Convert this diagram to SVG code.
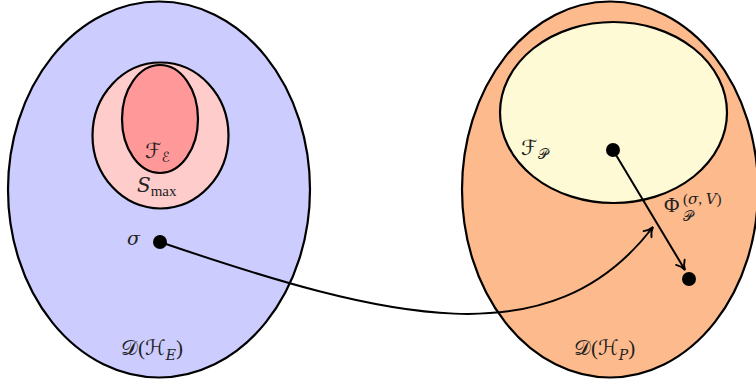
<svg xmlns="http://www.w3.org/2000/svg" width="756" height="383" viewBox="0 0 756 383">
<style>
.el{stroke:#000;stroke-width:2.2}
.t{font-family:"DejaVu Serif","Liberation Serif",serif;font-style:italic;fill:#222}
.r{font-family:"Liberation Serif","DejaVu Serif",serif;font-style:normal;fill:#222}
.s{font-family:"DejaVu Sans","DejaVu Serif","Noto Sans",serif;font-style:normal;fill:#222}
.edge{fill:none;stroke:#000;stroke-width:2}
</style>
<defs>
<marker id="arr" viewBox="0 0 14 14" refX="12" refY="7" markerWidth="14" markerHeight="14" markerUnits="userSpaceOnUse" orient="auto">
<path d="M3,2 Q7,6 12,7 Q7,8 3,12" fill="none" stroke="#000" stroke-width="1.9" stroke-linecap="round"/>
</marker>
</defs>
<rect width="756" height="383" fill="#fff"/>
<g id="DHE">
<ellipse class="el" cx="159" cy="189.5" rx="151" ry="188" fill="#ccccff"/>
<text x="121" y="355" font-size="21"><tspan class="s">𝒟</tspan><tspan class="r">(</tspan><tspan class="s">ℋ</tspan><tspan class="t" font-size="14" dy="5">E</tspan><tspan class="r" dy="-5">)</tspan></text>
</g>
<g id="Smax">
<ellipse class="el" cx="160.5" cy="135.5" rx="68" ry="73" fill="#ffcccc"/>
<text class="t" x="137" y="192" font-size="20">S<tspan class="r" font-size="15" dy="4">max</tspan></text>
</g>
<g id="FE">
<ellipse class="el" cx="160" cy="119" rx="38" ry="54" fill="#ff9999"/>
<text x="145" y="158" font-size="21"><tspan class="s">ℱ</tspan><tspan class="s" font-size="14" dy="4">ℰ</tspan></text>
</g>
<g id="sigma">
<circle cx="160" cy="242" r="7" fill="#000"/>
<text class="t" x="127" y="245" font-size="19">σ</text>
</g>
<g id="DHP">
<ellipse class="el" cx="610" cy="189.5" rx="148" ry="188" fill="#fdba8c"/>
<text x="574" y="355" font-size="21"><tspan class="s">𝒟</tspan><tspan class="r">(</tspan><tspan class="s">ℋ</tspan><tspan class="t" font-size="14" dy="5">P</tspan><tspan class="r" dy="-5">)</tspan></text>
</g>
<g id="FP">
<ellipse class="el" cx="613.5" cy="112.5" rx="113.5" ry="90.5" fill="#fffad6"/>
<text x="521" y="155" font-size="21"><tspan class="s">ℱ</tspan><tspan class="s" font-size="14" dy="4">𝒫</tspan></text>
</g>
<g id="p1">
<circle cx="613" cy="150" r="7" fill="#000"/>
</g>
<g id="p2">
<circle cx="689" cy="279" r="7" fill="#000"/>
</g>
<g id="connectors">
<path class="edge" d="M160,242 C389,320 551,360 653,227" marker-end="url(#arr)"/>
<path class="edge" d="M613,150 L685,270" marker-end="url(#arr)"/>
<text class="r" x="664" y="212" font-size="21">Φ</text>
<text class="s" x="683" y="221" font-size="14">𝒫</text>
<text class="t" x="683" y="204" font-size="15"><tspan class="r">(</tspan>σ<tspan class="r">, </tspan>V<tspan class="r">)</tspan></text>
</g>
</svg>
